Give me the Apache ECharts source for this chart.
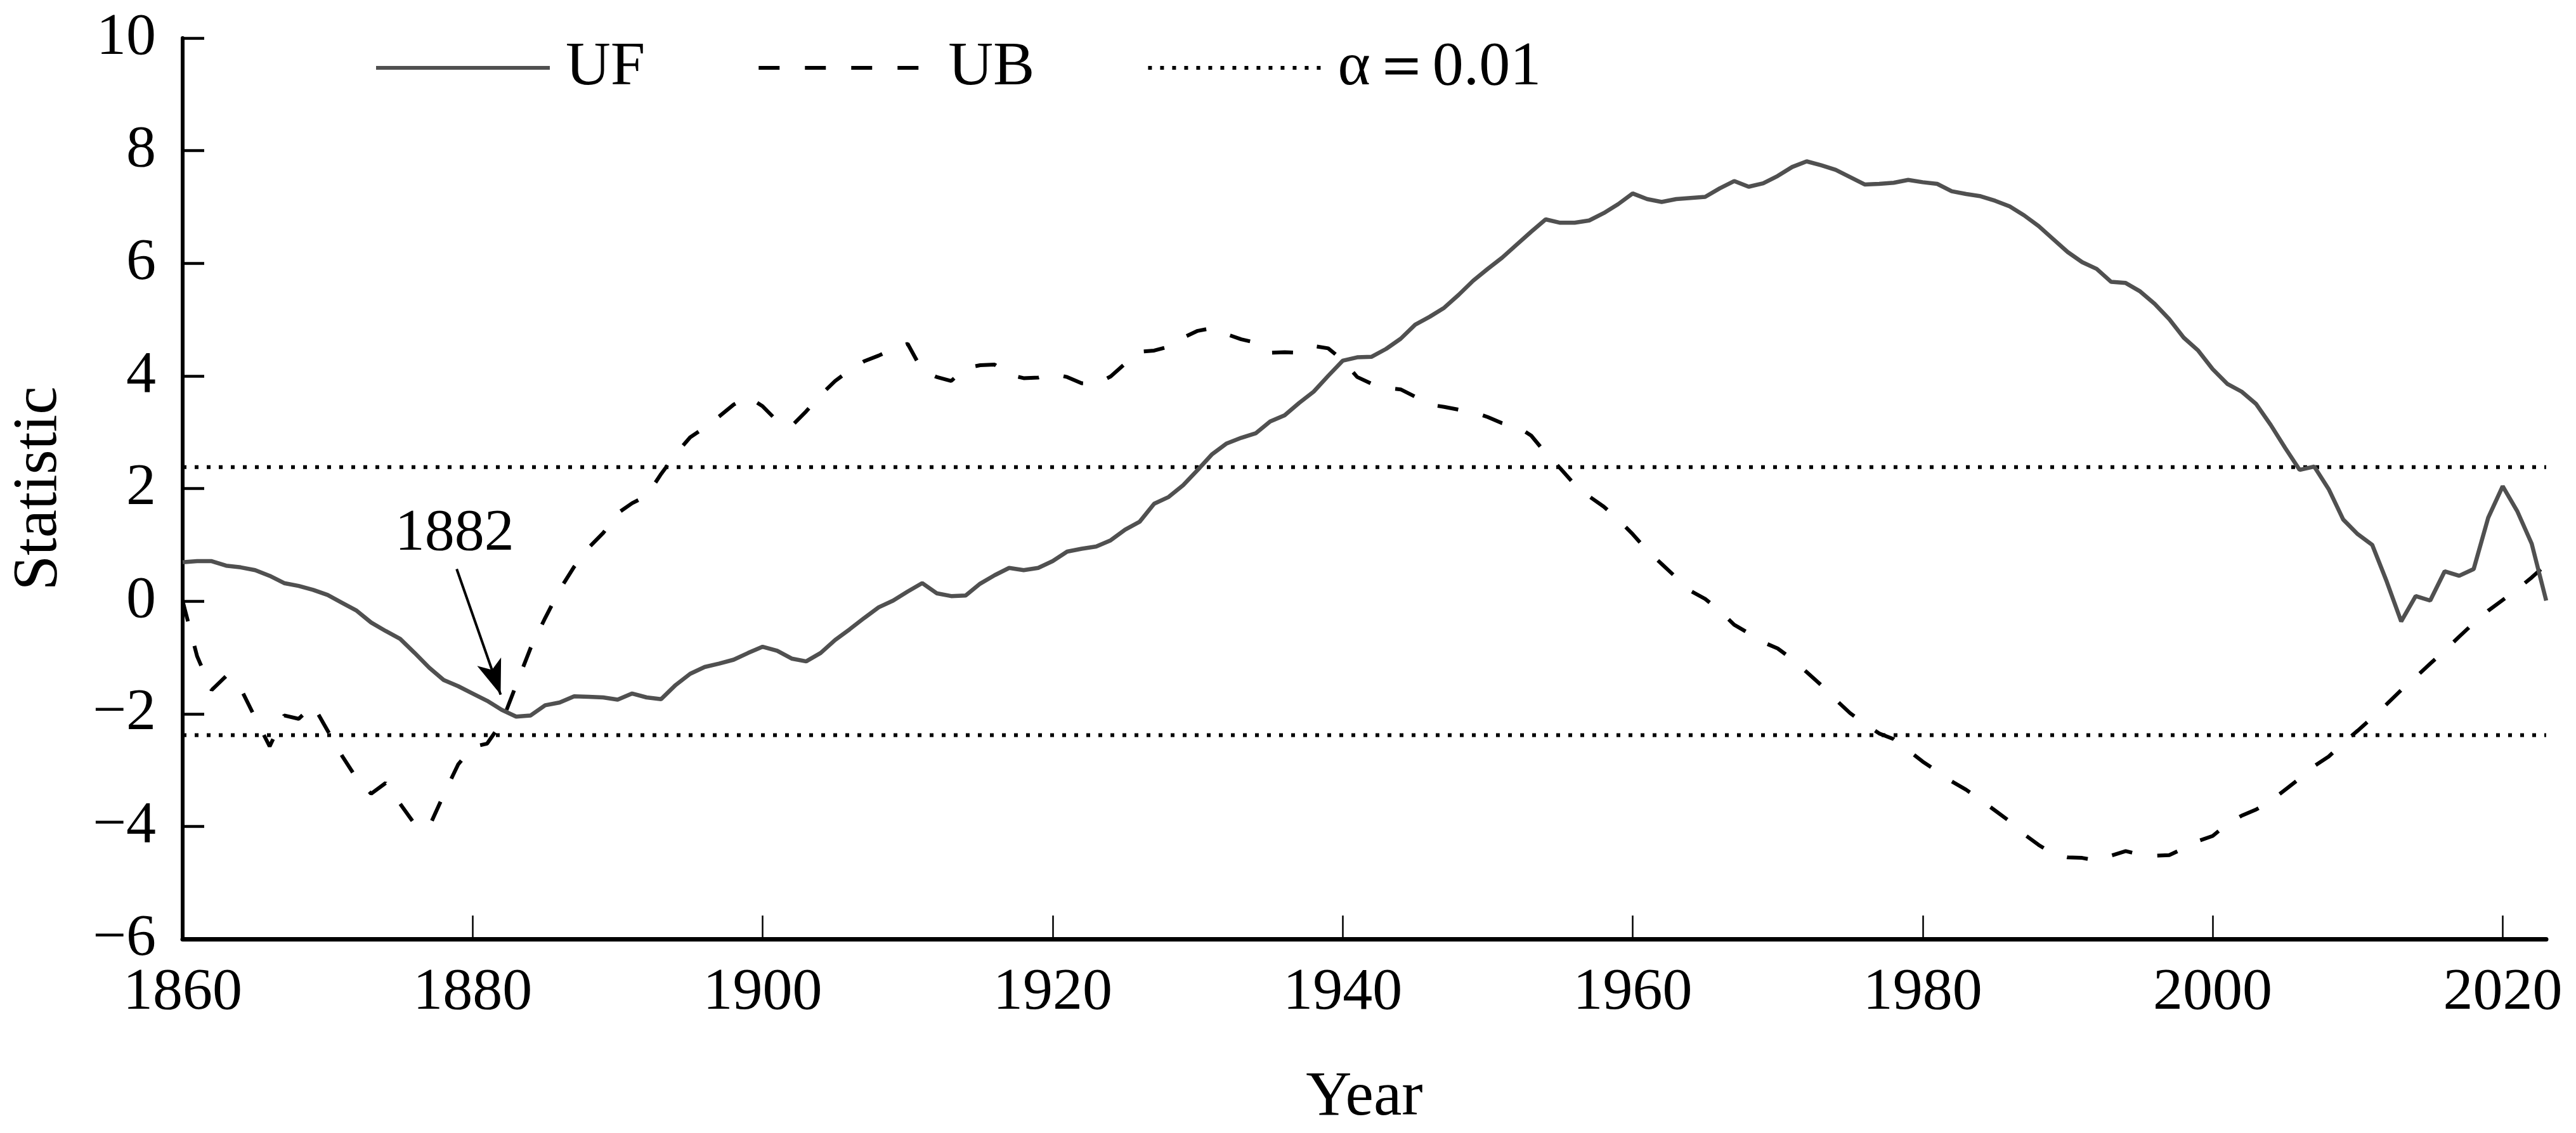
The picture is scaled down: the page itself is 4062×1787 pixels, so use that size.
<!DOCTYPE html>
<html><head><meta charset="utf-8">
<script src="https://cdn.jsdelivr.net/npm/echarts@6/dist/echarts.min.js"></script>
<style>html,body{margin:0;padding:0;background:#fff}#c{width:4062px;height:1787px}</style>
</head><body><div id="c"></div>
<script>
const startYear = 1860;
const endYear = 2023;
const ufValues = [
 0.69,0.71,0.71,0.63,0.60,0.55,0.45,0.32,0.27,0.20,
 0.11,-0.03,-0.17,-0.38,-0.53,-0.67,-0.92,-1.18,-1.40,-1.51,
 -1.64,-1.77,-1.93,-2.05,-2.03,-1.85,-1.80,-1.69,-1.70,-1.71,
 -1.75,-1.64,-1.71,-1.74,-1.49,-1.29,-1.17,-1.11,-1.04,-0.92,
 -0.81,-0.88,-1.02,-1.07,-0.92,-0.69,-0.50,-0.30,-0.11,0.01,
 0.17,0.32,0.14,0.09,0.10,0.31,0.46,0.59,0.55,0.59,
 0.71,0.88,0.93,0.97,1.08,1.27,1.41,1.73,1.85,2.06,
 2.33,2.61,2.80,2.90,2.98,3.19,3.30,3.52,3.72,4.00,
 4.27,4.33,4.34,4.48,4.66,4.91,5.05,5.21,5.44,5.69,
 5.90,6.10,6.33,6.56,6.78,6.72,6.72,6.76,6.89,7.05,
 7.24,7.14,7.09,7.14,7.16,7.18,7.33,7.46,7.36,7.42,
 7.55,7.71,7.81,7.74,7.66,7.53,7.40,7.41,7.43,7.48,
 7.44,7.41,7.28,7.23,7.19,7.11,7.01,6.85,6.66,6.43,
 6.20,6.02,5.90,5.67,5.65,5.50,5.28,5.01,4.68,4.45,
 4.12,3.86,3.72,3.50,3.13,2.72,2.33,2.39,1.99,1.45,
 1.19,1.00,0.35,-0.36,0.09,0.01,0.53,0.45,0.57,1.48,
 2.04,1.60,1.02,0.01
];
const ubValues = [
 0.00,-0.98,-1.58,-1.33,-1.55,-2.07,-2.58,-2.03,-2.09,-1.85,
 -2.30,-2.75,-3.15,-3.42,-3.23,-3.60,-3.96,-4.01,-3.44,-2.90,
 -2.59,-2.53,-2.16,-1.49,-0.83,-0.30,0.20,0.61,0.95,1.21,
 1.56,1.74,1.87,2.26,2.61,2.91,3.08,3.28,3.49,3.63,
 3.46,3.20,3.11,3.37,3.66,3.91,4.10,4.26,4.36,4.48,
 4.57,4.10,3.98,3.91,4.14,4.19,4.20,4.02,3.96,3.97,
 4.04,3.98,3.87,3.86,3.99,4.22,4.43,4.45,4.52,4.68,
 4.80,4.85,4.74,4.65,4.59,4.41,4.42,4.41,4.53,4.49,
 4.28,3.98,3.86,3.79,3.76,3.63,3.49,3.45,3.40,3.36,
 3.27,3.16,3.11,2.94,2.63,2.36,2.07,1.86,1.68,1.45,
 1.19,0.90,0.66,0.42,0.18,0.04,-0.17,-0.42,-0.57,-0.73,
 -0.84,-1.03,-1.26,-1.49,-1.75,-1.99,-2.18,-2.35,-2.45,-2.65,
 -2.85,-3.02,-3.20,-3.35,-3.53,-3.72,-3.91,-4.14,-4.33,-4.49,
 -4.55,-4.56,-4.61,-4.52,-4.44,-4.50,-4.52,-4.51,-4.39,-4.26,
 -4.17,-3.96,-3.81,-3.70,-3.55,-3.35,-3.15,-2.93,-2.76,-2.52,
 -2.30,-2.07,-1.83,-1.58,-1.35,-1.11,-0.88,-0.63,-0.39,-0.17,
 0.02,0.21,0.42,0.65
];
const alphaLevel = 2.38;
const seriesNames = ['UF', 'UB', 'α＝0.01'];
const xTickValues = [1860,1880,1900,1920,1940,1960,1980,2000,2020];
const annotText = '1882';
const annotArrow = [[1878.9, 0.57], [1881.93, -1.66]];
const annotTextPos = [1878.75, 1.19];

const FONT = 'Liberation Serif';
const pairs = vals => vals.map((v, i) => [startYear + i, v]);

const chart = echarts.init(document.getElementById('c'), null, {renderer: 'canvas'});
chart.setOption({
  animation: false,
  backgroundColor: '#fff',
  grid: {left: 288, right: 47, top: 60, bottom: 306, containLabel: false},
  legend: {
    left: 585, top: 53, itemWidth: 274, itemHeight: 20, itemGap: 176,
    data: seriesNames,
    itemStyle: {opacity: 0},
    lineStyle: {width: 6},
    textStyle: {fontSize: 98, fontFamily: FONT, color: '#000', padding: [0, 0, 0, 20]}
  },
  xAxis: {
    type: 'value', min: startYear, max: endYear,
    axisLine: {show: true, onZero: false, lineStyle: {color: '#000', width: 7}},
    axisTick: {show: true, inside: true, length: 37, customValues: xTickValues, lineStyle: {color: '#000', width: 2.5}},
    axisLabel: {margin: 38, fontSize: 94, fontFamily: FONT, color: '#000', customValues: xTickValues,
      formatter: v => String(v)},
    splitLine: {show: false},
    name: 'Year', nameLocation: 'middle', nameGap: 201,
    nameTextStyle: {fontSize: 100, fontFamily: FONT, color: '#000'}
  },
  yAxis: {
    type: 'value', min: -6, max: 10, interval: 2,
    axisLine: {show: true, onZero: false, lineStyle: {color: '#000', width: 6}},
    axisTick: {show: true, inside: true, length: 34, lineStyle: {color: '#000', width: 4.5}},
    axisLabel: {margin: 42, fontSize: 94, fontFamily: FONT, color: '#000',
      formatter: v => String(v).replace('-', '\u2212')},
    splitLine: {show: false},
    name: 'Statistic', nameLocation: 'middle', nameGap: 176,
    nameTextStyle: {fontSize: 100, fontFamily: FONT, color: '#000'}
  },
  series: [
    {name: seriesNames[0], type: 'line', data: pairs(ufValues), symbol: 'none',
     lineStyle: {color: '#505050', width: 6.5}, itemStyle: {color: '#505050'}, z: 3},
    {name: seriesNames[1], type: 'line', data: pairs(ubValues), symbol: 'none',
     lineStyle: {color: '#000', width: 6, type: [33, 40]}, itemStyle: {color: '#000'}, z: 2},
    {name: seriesNames[2], type: 'line', data: [[startYear, alphaLevel], [endYear, alphaLevel]], symbol: 'none',
     lineStyle: {color: '#000', width: 6, type: [6, 13]}, itemStyle: {color: '#000'}, z: 1},
    {name: seriesNames[2], type: 'line', data: [[startYear, -alphaLevel], [endYear, -alphaLevel]], symbol: 'none',
     lineStyle: {color: '#000', width: 6, type: [6, 13]}, itemStyle: {color: '#000'}, z: 1},
    {name: 'annotation', type: 'line', data: [], symbol: 'none', silent: true,
     markLine: {
       silent: true, symbol: ['none', 'arrow'], symbolSize: [30, 55],
       lineStyle: {color: '#000', width: 4, type: 'solid'},
       label: {show: false},
       data: [[{coord: annotArrow[0]}, {coord: annotArrow[1]}]]
     },
     markPoint: {
       silent: true, symbol: 'circle', symbolSize: 1, itemStyle: {color: 'rgba(0,0,0,0)'},
       label: {show: true, position: 'inside', formatter: annotText, fontSize: 94, fontFamily: FONT, color: '#000'},
       data: [{coord: annotTextPos}]
     }
    }
  ]
});
</script></body></html>
